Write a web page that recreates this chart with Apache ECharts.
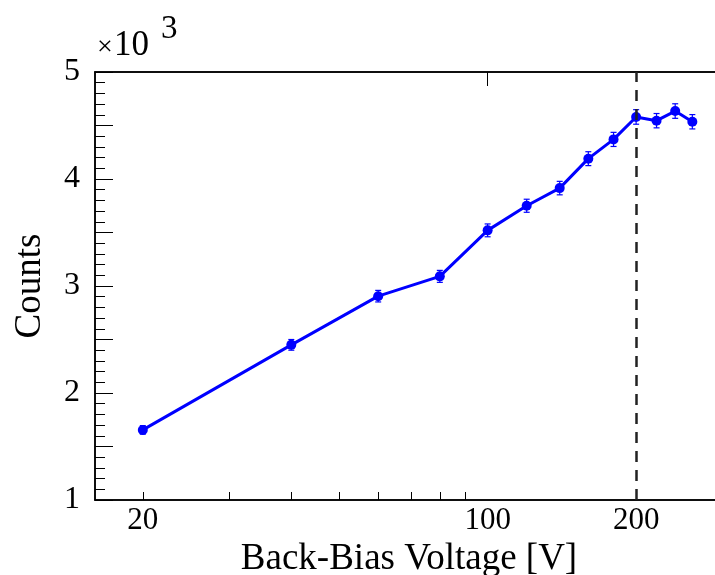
<!DOCTYPE html>
<html>
<head>
    <meta charset="UTF-8">
    <title>Counts vs Back-Bias Voltage</title>
    <script src="https://cdn.jsdelivr.net/npm/echarts@6.0.0/dist/echarts.min.js"></script>
    <style>
        html, body { margin: 0; padding: 0; background: #fff; }
        #chart { width: 715px; height: 575px; }
    </style>
</head>
<body>
    <div id="chart"></div>

    <script>
        // data
        const voltages = [20, 40, 60, 80, 100, 120, 140, 160, 180, 200, 220, 240, 260];
        const counts = [1655, 2450, 2905, 3090, 3520, 3750, 3915, 4190, 4370, 4580, 4545, 4635, 4535];
        const errors = [40, 50, 54, 56, 60, 61, 63, 65, 66, 68, 67, 68, 67];
        const xLabelValues = [20, 100, 200];
        const xTickValues = [20, 30, 40, 50, 60, 70, 80, 90, 200];
        const cutVoltage = 200;

        const font = 'Liberation Serif';
        const chart = echarts.init(document.getElementById('chart'));

        const points = voltages.map((v, i) => [v, counts[i]]);
        const bars = voltages.map((v, i) => [v, counts[i], errors[i]]);

        const xBase = {
            type: 'log',
            logBase: 10,
            min: 16,
            max: 300,
            gridIndex: 0,
            splitLine: { show: false },
            axisLine: { show: true, lineStyle: { color: '#000', width: 1.5 } }
        };

        const option = {
            animation: false,
            backgroundColor: '#fff',
            grid: {
                left: 95, top: 72, width: 628, bottom: 75,
                outerBoundsMode: 'none',
                containLabel: false,
                show: true, borderColor: '#000', borderWidth: 1.5
            },
            xAxis: [
                Object.assign({}, xBase, {
                    name: 'Back-Bias Voltage [V]',
                    nameLocation: 'middle',
                    nameGap: 35,
                    nameTextStyle: { fontFamily: font, fontSize: 37, color: '#000' },
                    axisTick: { inside: true, length: 8, customValues: xTickValues, lineStyle: { color: '#000', width: 1 } },
                    axisLabel: { customValues: xLabelValues, margin: 5, fontFamily: font, fontSize: 31, color: '#000' }
                }),
                Object.assign({}, xBase, {
                    axisTick: { inside: true, length: 14, customValues: [100], lineStyle: { color: '#000', width: 1 } },
                    axisLabel: { show: false }
                })
            ],
            yAxis: {
                type: 'value',
                min: 1000,
                max: 5000,
                interval: 500,
                name: 'Counts',
                nameLocation: 'middle',
                nameGap: 46,
                nameTextStyle: { fontFamily: font, fontSize: 37, color: '#000' },
                splitLine: { show: false },
                axisLine: { show: true, lineStyle: { color: '#000', width: 1.5 } },
                axisTick: { inside: true, length: 18, lineStyle: { color: '#000', width: 1 } },
                minorTick: { show: true, splitNumber: 5, length: 10, lineStyle: { color: '#000', width: 1 } },
                axisLabel: {
                    margin: 15,
                    fontFamily: font,
                    fontSize: 32,
                    color: '#000',
                    formatter: v => (v % 1000 === 0 ? String(v / 1000) : '')
                }
            },
            graphic: [
                { type: 'text', x: 97, y: 34, style: { text: '×', fontFamily: font, fontSize: 28, fill: '#000' } },
                { type: 'text', x: 114, y: 28, style: { text: '10', fontFamily: font, fontSize: 35, fill: '#000' } },
                { type: 'text', x: 161, y: 13, style: { text: '3', fontFamily: font, fontSize: 33, fill: '#000' } }
            ],
            series: [
                {
                    type: 'line',
                    data: points,
                    symbol: 'circle',
                    symbolSize: 10,
                    itemStyle: { color: '#0000ff' },
                    lineStyle: { color: '#0000ff', width: 3 },
                    z: 3,
                    markLine: {
                        silent: true,
                        symbol: 'none',
                        label: { show: false },
                        lineStyle: { color: '#222', width: 2.5, type: [11, 8] },
                        data: [{ xAxis: cutVoltage }]
                    }
                },
                {
                    type: 'custom',
                    data: bars,
                    z: 4,
                    renderItem: function (params, api) {
                        const x = api.value(0);
                        const y = api.value(1);
                        const e = api.value(2);
                        const lo = api.coord([x, y - e]);
                        const hi = api.coord([x, y + e]);
                        const w = 3;
                        const style = { stroke: '#0000ff', lineWidth: 1.2 };
                        return {
                            type: 'group',
                            children: [
                                { type: 'line', shape: { x1: lo[0], y1: lo[1], x2: hi[0], y2: hi[1] }, style: style },
                                { type: 'line', shape: { x1: lo[0] - w, y1: lo[1], x2: lo[0] + w, y2: lo[1] }, style: style },
                                { type: 'line', shape: { x1: hi[0] - w, y1: hi[1], x2: hi[0] + w, y2: hi[1] }, style: style }
                            ]
                        };
                    }
                }
            ]
        };

        chart.setOption(option);
    </script>
</body>
</html>
